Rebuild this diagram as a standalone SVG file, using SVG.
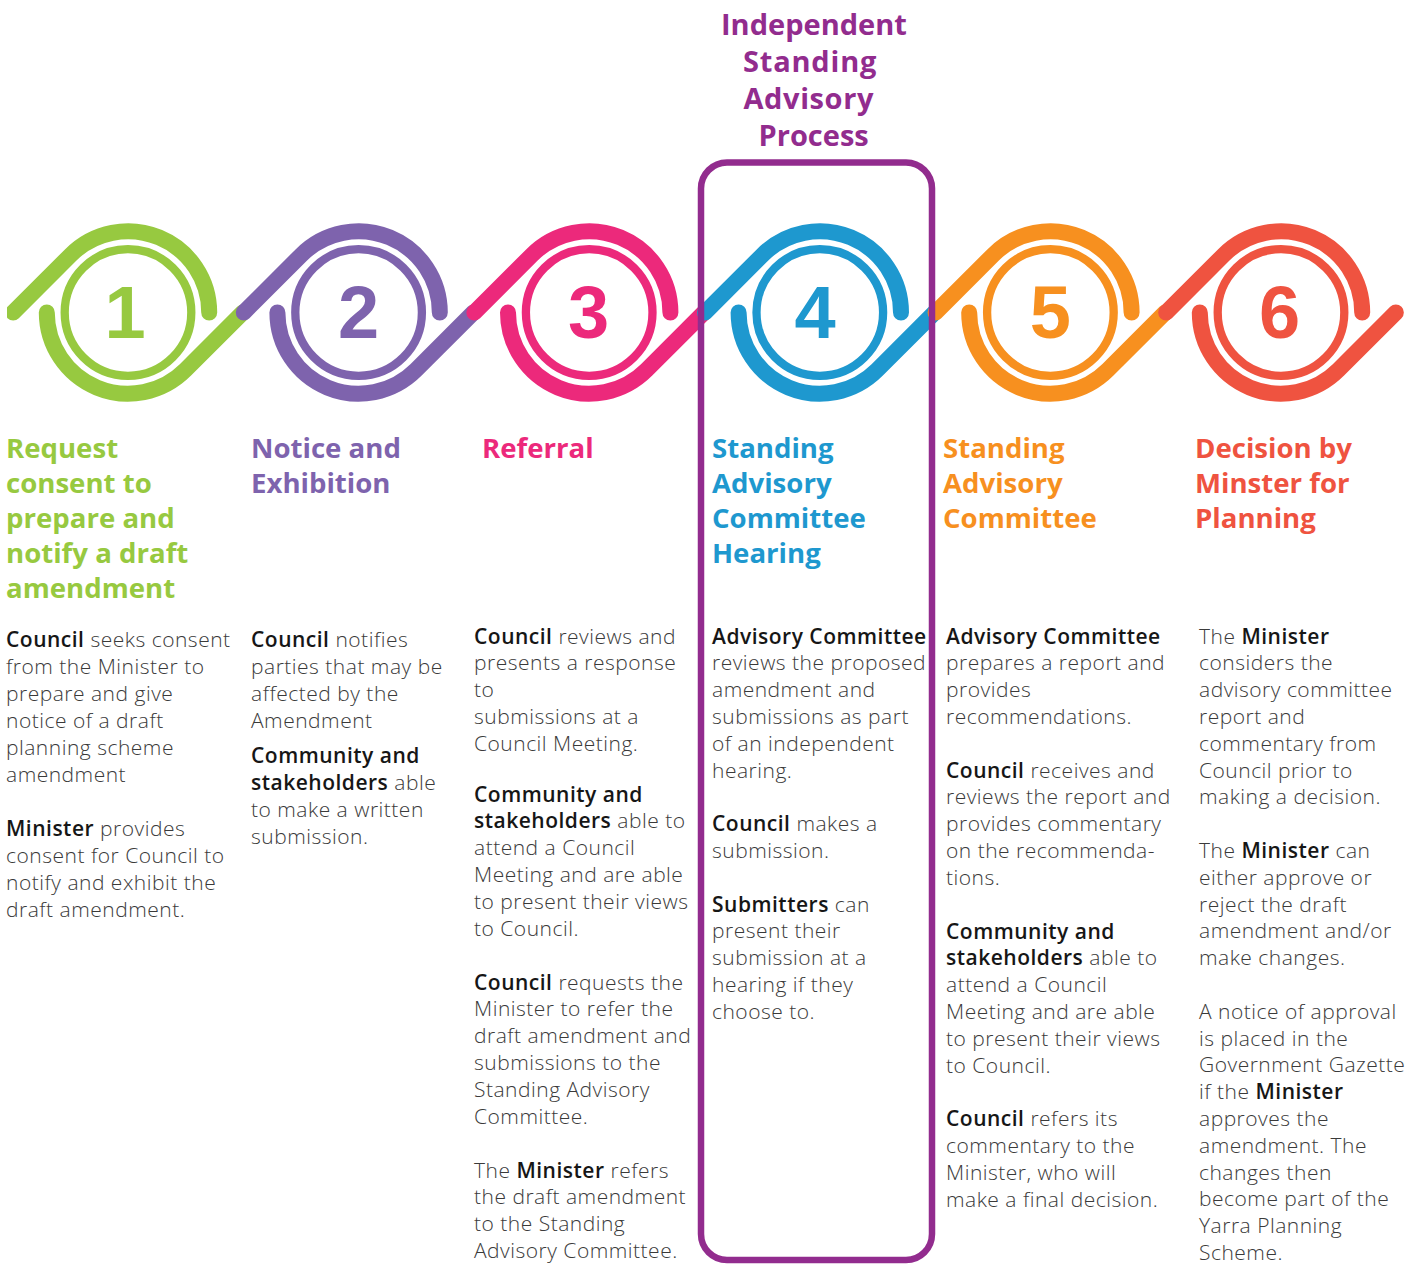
<svg xmlns="http://www.w3.org/2000/svg" width="1421" height="1264" viewBox="0 0 1421 1264">
<style>
.ch{fill:none;stroke-width:16;stroke-linecap:round;stroke-linejoin:round}
.ring{fill:none;stroke-width:8.3}
.num{font-family:"Liberation Sans",Arial,sans-serif;font-weight:700;font-size:74px;text-anchor:middle}
.ttl{font-family:"Open Sans","Noto Sans",sans-serif;font-weight:700;font-size:27.6px}
.top{font-family:"Open Sans","Noto Sans",sans-serif;font-weight:700;font-size:29px;fill:#922C8E}
.bd{font-family:"Open Sans","Noto Sans",sans-serif;font-weight:300;font-size:21px;letter-spacing:0.5px;fill:#3a3a3a}
.b{font-weight:600;fill:#161616}
.g{stroke:#97C940}.gf{fill:#97C940}
.p{stroke:#7E63AD}.pf{fill:#7E63AD}
.k{stroke:#EC297B}.kf{fill:#EC297B}
.u{stroke:#1E98CF}.uf{fill:#1E98CF}
.o{stroke:#F7901F}.of{fill:#F7901F}
.r{stroke:#EF5340}.rf{fill:#EF5340}
</style>
<defs>
<clipPath id="clipL"><rect x="7" y="0" width="1414" height="1264"/></clipPath>
<g id="chainShape">
<path d="M -114.84 0 L -57.42 -57.42 A 81.2 81.2 0 0 1 81.2 0"/>
<path d="M -81.2 0 A 81.2 81.2 0 0 0 57.42 57.42 L 114.84 0"/>
</g>
</defs>

<g id="node1" clip-path="url(#clipL)">
<g class="ch g" transform="translate(128,312.5)"><use href="#chainShape"/></g>
<circle class="ring g" cx="128" cy="312.5" r="63.3"/>
<text class="num gf" x="125" y="338">1</text>
</g>
<g id="node2">
<g class="ch p" transform="translate(358.6,312.5)"><use href="#chainShape"/></g>
<circle class="ring p" cx="358.6" cy="312.5" r="63.3"/>
<text class="num pf" x="358.6" y="338">2</text>
</g>
<g id="node3">
<g class="ch k" transform="translate(589.2,312.5)"><use href="#chainShape"/></g>
<circle class="ring k" cx="589.2" cy="312.5" r="63.3"/>
<text class="num kf" x="588.5" y="338">3</text>
</g>
<g id="node4">
<g class="ch u" transform="translate(819.8,312.5)"><use href="#chainShape"/></g>
<circle class="ring u" cx="819.8" cy="312.5" r="63.3"/>
<text class="num uf" x="815" y="338">4</text>
</g>
<g id="node5">
<g class="ch o" transform="translate(1050.4,312.5)"><use href="#chainShape"/></g>
<circle class="ring o" cx="1050.4" cy="312.5" r="63.3"/>
<text class="num of" x="1050.4" y="338">5</text>
</g>
<g id="node6">
<g class="ch r" transform="translate(1281,312.5)"><use href="#chainShape"/></g>
<circle class="ring r" cx="1281" cy="312.5" r="63.3"/>
<text class="num rf" x="1279.5" y="338">6</text>
</g>

<g id="process-box">
<rect x="701" y="162.5" width="231" height="1097.5" rx="26" fill="none" stroke="#922C8E" stroke-width="6.5"/>
<text class="top" x="721" y="35">Independent</text>
<text class="top" x="743" y="72" letter-spacing="0.8">Standing</text>
<text class="top" x="743.5" y="109" letter-spacing="0.6">Advisory</text>
<text class="top" x="758.5" y="146">Process</text>
</g>

<g id="col1">
<text class="ttl gf" x="6"><tspan x="6" y="457.5">Request</tspan><tspan x="6" y="492.5">consent to</tspan><tspan x="6" y="527.5">prepare and</tspan><tspan x="6" y="562.5">notify a draft</tspan><tspan x="6" y="597.5">amendment</tspan></text>
<text class="bd">
<tspan x="6" y="646.5"><tspan class="b">Council</tspan> seeks consent</tspan>
<tspan x="6" y="673.5">from the Minister to</tspan>
<tspan x="6" y="700.5">prepare and give</tspan>
<tspan x="6" y="727.5">notice of a draft</tspan>
<tspan x="6" y="754.5">planning scheme</tspan>
<tspan x="6" y="781.5">amendment</tspan>
<tspan x="6" y="835.5"><tspan class="b">Minister</tspan> provides</tspan>
<tspan x="6" y="862.5">consent for Council to</tspan>
<tspan x="6" y="889.5">notify and exhibit the</tspan>
<tspan x="6" y="916.5">draft amendment.</tspan>
</text>
</g>

<g id="col2">
<text class="ttl pf"><tspan x="251" y="457.5">Notice and</tspan><tspan x="251" y="492.5">Exhibition</tspan></text>
<text class="bd">
<tspan x="251" y="646.5"><tspan class="b">Council</tspan> notifies</tspan>
<tspan x="251" y="673.5">parties that may be</tspan>
<tspan x="251" y="700.5">affected by the</tspan>
<tspan x="251" y="727.5">Amendment</tspan>
<tspan x="251" y="762.5" class="b">Community and</tspan>
<tspan x="251" y="789.5"><tspan class="b">stakeholders</tspan> able</tspan>
<tspan x="251" y="816.5">to make a written</tspan>
<tspan x="251" y="843.5">submission.</tspan>
</text>
</g>

<g id="col3">
<text class="ttl kf"><tspan x="482" y="457.5">Referral</tspan></text>
<text class="bd">
<tspan x="474" y="643.5"><tspan class="b">Council</tspan> reviews and</tspan>
<tspan x="474" y="670.3">presents a response</tspan>
<tspan x="474" y="697.1">to</tspan>
<tspan x="474" y="723.9">submissions at a</tspan>
<tspan x="474" y="750.7">Council Meeting.</tspan>
<tspan x="474" y="801.5" class="b">Community and</tspan>
<tspan x="474" y="828.3"><tspan class="b">stakeholders</tspan> able to</tspan>
<tspan x="474" y="855.1">attend a Council</tspan>
<tspan x="474" y="881.9">Meeting and are able</tspan>
<tspan x="474" y="908.7">to present their views</tspan>
<tspan x="474" y="935.5">to Council.</tspan>
<tspan x="474" y="989.5"><tspan class="b">Council</tspan> requests the</tspan>
<tspan x="474" y="1016.3">Minister to refer the</tspan>
<tspan x="474" y="1043.1">draft amendment and</tspan>
<tspan x="474" y="1069.9">submissions to the</tspan>
<tspan x="474" y="1096.7">Standing Advisory</tspan>
<tspan x="474" y="1123.5">Committee.</tspan>
<tspan x="474" y="1177.5">The <tspan class="b">Minister</tspan> refers</tspan>
<tspan x="474" y="1204.3">the draft amendment</tspan>
<tspan x="474" y="1231.1">to the Standing</tspan>
<tspan x="474" y="1257.9">Advisory Committee.</tspan>
</text>
</g>

<g id="col4">
<text class="ttl uf"><tspan x="712" y="457.5">Standing</tspan><tspan x="712" y="492.5">Advisory</tspan><tspan x="712" y="527.5">Committee</tspan><tspan x="712" y="562.5">Hearing</tspan></text>
<text class="bd">
<tspan x="712" y="643.5" class="b">Advisory Committee</tspan>
<tspan x="712" y="670.3">reviews the proposed</tspan>
<tspan x="712" y="697.1">amendment and</tspan>
<tspan x="712" y="723.9">submissions as part</tspan>
<tspan x="712" y="750.7">of an independent</tspan>
<tspan x="712" y="777.5">hearing.</tspan>
<tspan x="712" y="831.3"><tspan class="b">Council</tspan> makes a</tspan>
<tspan x="712" y="858.1">submission.</tspan>
<tspan x="712" y="911.5"><tspan class="b">Submitters</tspan> can</tspan>
<tspan x="712" y="938.3">present their</tspan>
<tspan x="712" y="965.1">submission at a</tspan>
<tspan x="712" y="991.9">hearing if they</tspan>
<tspan x="712" y="1018.7">choose to.</tspan>
</text>
</g>

<g id="col5">
<text class="ttl of"><tspan x="943" y="457.5">Standing</tspan><tspan x="943" y="492.5">Advisory</tspan><tspan x="943" y="527.5">Committee</tspan></text>
<text class="bd">
<tspan x="946" y="643.5" class="b">Advisory Committee</tspan>
<tspan x="946" y="670.3">prepares a report and</tspan>
<tspan x="946" y="697.1">provides</tspan>
<tspan x="946" y="723.9">recommendations.</tspan>
<tspan x="946" y="777.5"><tspan class="b">Council</tspan> receives and</tspan>
<tspan x="946" y="804.3">reviews the report and</tspan>
<tspan x="946" y="831.1">provides commentary</tspan>
<tspan x="946" y="857.9">on the recommenda-</tspan>
<tspan x="946" y="884.7">tions.</tspan>
<tspan x="946" y="938.5" class="b">Community and</tspan>
<tspan x="946" y="965.3"><tspan class="b">stakeholders</tspan> able to</tspan>
<tspan x="946" y="992.1">attend a Council</tspan>
<tspan x="946" y="1018.9">Meeting and are able</tspan>
<tspan x="946" y="1045.7">to present their views</tspan>
<tspan x="946" y="1072.5">to Council.</tspan>
<tspan x="946" y="1126.3"><tspan class="b">Council</tspan> refers its</tspan>
<tspan x="946" y="1153.1">commentary to the</tspan>
<tspan x="946" y="1179.9">Minister, who will</tspan>
<tspan x="946" y="1206.7">make a final decision.</tspan>
</text>
</g>

<g id="col6">
<text class="ttl rf"><tspan x="1195" y="457.5">Decision by</tspan><tspan x="1195" y="492.5">Minster for</tspan><tspan x="1195" y="527.5">Planning</tspan></text>
<text class="bd">
<tspan x="1199" y="643.5">The <tspan class="b">Minister</tspan></tspan>
<tspan x="1199" y="670.3">considers the</tspan>
<tspan x="1199" y="697.1">advisory committee</tspan>
<tspan x="1199" y="723.9">report and</tspan>
<tspan x="1199" y="750.7">commentary from</tspan>
<tspan x="1199" y="777.5">Council prior to</tspan>
<tspan x="1199" y="804.3">making a decision.</tspan>
<tspan x="1199" y="857.9">The <tspan class="b">Minister</tspan> can</tspan>
<tspan x="1199" y="884.7">either approve or</tspan>
<tspan x="1199" y="911.5">reject the draft</tspan>
<tspan x="1199" y="938.3">amendment and/or</tspan>
<tspan x="1199" y="965.1">make changes.</tspan>
<tspan x="1199" y="1018.7">A notice of approval</tspan>
<tspan x="1199" y="1045.5">is placed in the</tspan>
<tspan x="1199" y="1072.3">Government Gazette</tspan>
<tspan x="1199" y="1099.1">if the <tspan class="b">Minister</tspan></tspan>
<tspan x="1199" y="1125.9">approves the</tspan>
<tspan x="1199" y="1152.7">amendment. The</tspan>
<tspan x="1199" y="1179.5">changes then</tspan>
<tspan x="1199" y="1206.3">become part of the</tspan>
<tspan x="1199" y="1233.1">Yarra Planning</tspan>
<tspan x="1199" y="1259.9">Scheme.</tspan>
</text>
</g>
</svg>
